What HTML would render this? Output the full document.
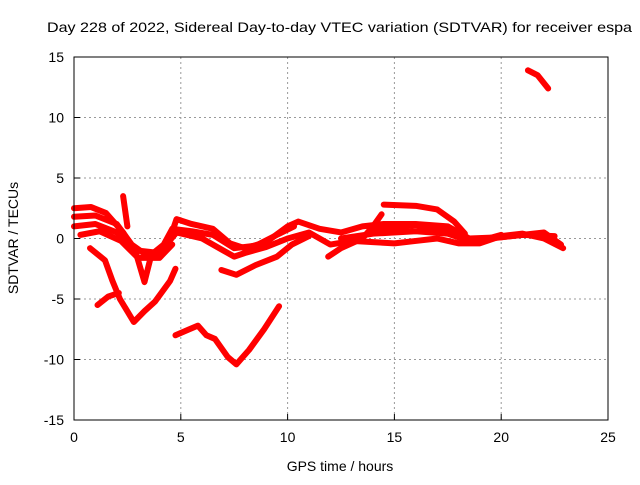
<!DOCTYPE html>
<html><head><meta charset="utf-8"><style>
body{margin:0;background:#fff}
svg text{font-family:"Liberation Sans",sans-serif;font-size:13px;fill:#000}
</style></head><body>
<svg id="c" width="640" height="480">
<rect width="640" height="480" fill="#fff"/>
<g id="grid"></g><g id="ticks"></g><g id="series"></g>
<rect x="74" y="57" width="534" height="363" fill="none" stroke="#000" stroke-width="1"/>
<text x="47" y="32" textLength="585" lengthAdjust="spacingAndGlyphs" style="font-size:14px">Day 228 of 2022, Sidereal Day-to-day VTEC variation (SDTVAR) for receiver espa</text>
<text x="340" y="471" text-anchor="middle" style="font-size:14px">GPS time / hours</text>
<text x="0" y="0" transform="translate(18,238) rotate(-90)" text-anchor="middle" style="font-size:14px">SDTVAR / TECUs</text>
</svg>
<script>
const xTicks=[0,5,10,15,20,25];
const yTicks=[-15,-10,-5,0,5,10,15];
const trackA=[[0.75,-0.8],[1.45,-1.8],[1.8,-3.5],[2.15,-5],[2.8,-6.9],[3.3,-6],[3.8,-5.2],[4.5,-3.5],[4.75,-2.5]];
const trackB=[[1.1,-5.5],[1.6,-4.8],[2.1,-4.5]];
const trackC=[[4.75,-8],[5.4,-7.5],[5.8,-7.2],[6.2,-8],[6.6,-8.3],[7.2,-9.8],[7.6,-10.4],[8.2,-9.2],[8.9,-7.5],[9.6,-5.6]];
const trackD=[[21.25,13.9],[21.7,13.5],[22.2,12.4]];
const trackE=[[0,2.5],[0.8,2.6],[1.5,2.1],[2.3,0.5],[2.9,-1.2],[3.3,-3.6],[3.6,-1.5],[4.3,-1],[4.8,1.6],[5.5,1.2],[6.5,0.8],[7.3,-0.4],[8,-0.8],[9,-0.3],[10,1],[10.5,1.4],[11.5,0.8],[12.5,0.5],[13.5,1],[14.5,1.2],[16,1.2],[17.5,1],[18.5,0],[20,0.1],[21,0.3],[22,0.5],[22.8,-0.5]];
const trackF=[[0,1],[1,1.2],[2,0.5],[3,-1],[4,-1.2],[4.8,0.5],[6,0],[7,-1],[7.5,-1.5],[8,-1.2],[9,-0.7],[10,0],[11,0.5],[12,-0.5],[13,-0.2],[14,-0.3],[15,-0.4],[16,-0.2],[17,0],[18,-0.4],[19,-0.4],[20,0.2],[21,0.4],[22,0],[22.9,-0.8]];
const trackG=[[6.9,-2.6],[7.6,-3],[8.5,-2.2],[9.5,-1.5],[10.2,-0.5],[11,0.2]];
const trackH=[[11.9,-1.5],[12.5,-0.8],[13.5,0],[14,1],[14.4,2]];
const trackI=[[14.5,2.8],[16,2.7],[17,2.4],[17.8,1.4],[18.3,0.4]];
const trackJ=[[14,0.7],[16,1.1],[17,0.8],[18,0.2],[19,-0.2],[20,0.3]];
const trackK=[[2.3,3.5],[2.5,1]];
const trackL=[[0,1.8],[1,1.9],[2,1.2],[2.7,-0.5],[3.5,-1.5],[4.2,-0.5],[4.6,0.8],[5.5,0.6],[6.5,0.3],[7.5,-0.8],[8.5,-0.6],[9.5,0.3],[10.3,1]];
const trackM=[[0.3,0.3],[1.2,0.6],[2.2,-0.2],[3,-1.6],[4,-1.6],[4.6,-0.5]];
const trackN=[[12.5,0],[14,0.4],[16,0.6],[17.5,0.4],[18.5,-0.2],[19.5,0],[21,0.3],[22.5,0.2]];
const X=v=>74+v*534/25, Y=v=>238.5-v*363/30;
const NS="http://www.w3.org/2000/svg";
const grid=document.getElementById('grid'),ticks=document.getElementById('ticks'),ser=document.getElementById('series');
function mk(tag,at,p){const e=document.createElementNS(NS,tag);for(const k in at)e.setAttribute(k,at[k]);p.appendChild(e);return e;}
xTicks.forEach(t=>{
 if(t>0&&t<25){const g=mk('line',{x1:X(t),x2:X(t),y1:57,y2:420,stroke:'#999','stroke-dasharray':'2,3'},grid);
 
 }
 const tk=mk('line',{x1:X(t),x2:X(t),y1:420,y2:414,stroke:'#000'},ticks);
 
 
 const l=mk('text',{x:X(t),y:442,'text-anchor':'middle',style:'font-size:14px'},ticks);l.textContent=t;
 
 
});
yTicks.forEach(t=>{
 if(t>-15&&t<15){const g=mk('line',{x1:74,x2:608,y1:Y(t),y2:Y(t),stroke:'#999','stroke-dasharray':'2,3'},grid);
 
 }
 const tk=mk('line',{x1:74,x2:80,y1:Y(t),y2:Y(t),stroke:'#000'},ticks);
 
 
 const l=mk('text',{x:64,y:Y(t)+5,'text-anchor':'end',style:'font-size:14px'},ticks);l.textContent=t;
 
 
});
[trackA,trackB,trackC,trackD,trackE,trackF,trackG,trackH,trackI,trackJ,trackK,trackL,trackM,trackN].forEach((tr,i)=>{
 const p=mk('polyline',{points:tr.map(d=>X(d[0])+','+Y(d[1])).join(' '),fill:'none',stroke:'#f00','stroke-width':6,'stroke-linejoin':'round','stroke-linecap':'round'},ser);
 
 
});
</script>
</body></html>
